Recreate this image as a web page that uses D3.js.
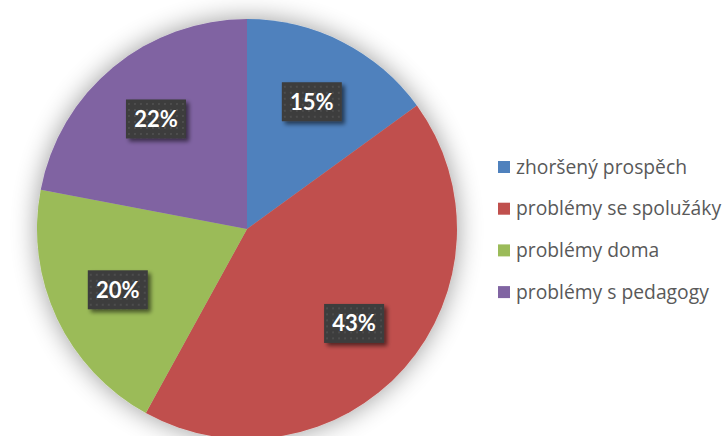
<!DOCTYPE html>
<html>
<head>
<meta charset="utf-8">
<script src="https://cdn.jsdelivr.net/npm/d3@7"></script>
<style>
  body { margin: 0; background: #fff; }
  .legend-label { font-family: "Open Sans", "Noto Sans", sans-serif; font-size: 19.3px; fill: #595959; }
  .pct-label { font-family: Lato, "Open Sans", sans-serif; font-size: 22px; font-weight: bold; fill: #fff; }
</style>
</head>
<body>
<script>
var width = 725;
var height = 436;

// data
var categories = ["zhoršený prospěch", "problémy se spolužáky", "problémy doma", "problémy s pedagogy"];
var values = [15, 43, 20, 22];
var colors = ["#4F81BD", "#C0504D", "#9BBB59", "#8064A2"];

var cx = 247, cy = 229, radius = 210;

var svg = d3.select("body")
	.append("svg")
	.attr("width", width)
	.attr("height", height);

var defs = svg.append("defs");

// soft shadow round the whole pie
var pieShadow = defs.append("filter")
	.attr("id", "pieShadow")
	.attr("x", "-20%").attr("y", "-20%")
	.attr("width", "140%").attr("height", "140%");
pieShadow.append("feGaussianBlur").attr("in", "SourceAlpha").attr("stdDeviation", 13).attr("result", "blur");
pieShadow.append("feComponentTransfer").attr("in", "blur").attr("result", "soft")
	.append("feFuncA").attr("type", "linear").attr("slope", 0.4);
var m1 = pieShadow.append("feMerge");
m1.append("feMergeNode").attr("in", "soft");
m1.append("feMergeNode").attr("in", "SourceGraphic");

// label box shadow, bottom right
var boxShadow = defs.append("filter")
	.attr("id", "boxShadow")
	.attr("x", "-30%").attr("y", "-30%")
	.attr("width", "160%").attr("height", "160%");
boxShadow.append("feGaussianBlur").attr("in", "SourceAlpha").attr("stdDeviation", 2).attr("result", "blur");
boxShadow.append("feOffset").attr("in", "blur").attr("dx", 3).attr("dy", 3).attr("result", "off");
boxShadow.append("feComponentTransfer").attr("in", "off").attr("result", "soft")
	.append("feFuncA").attr("type", "linear").attr("slope", 0.55);
var m2 = boxShadow.append("feMerge");
m2.append("feMergeNode").attr("in", "soft");
m2.append("feMergeNode").attr("in", "SourceGraphic");

// dotted fill of the label boxes
var pat = defs.append("pattern")
	.attr("id", "dots")
	.attr("width", 6).attr("height", 6)
	.attr("patternUnits", "userSpaceOnUse");
pat.append("rect").attr("width", 6).attr("height", 6).attr("fill", "#3c3c3c");
pat.append("rect").attr("x", 2).attr("y", 2).attr("width", 2).attr("height", 2).attr("fill", "#4d4d4d");

var pie = d3.pie().sort(null).value(function(d){ return d; });
var arcs = pie(values);

var arc = d3.arc().innerRadius(0).outerRadius(radius);
var labelArc = d3.arc().innerRadius(radius * 0.68).outerRadius(radius * 0.68);

var g = svg.append("g")
	.attr("transform", "translate(" + cx + "," + cy + ")");

g.append("g")
	.attr("filter", "url(#pieShadow)")
	.selectAll("path")
	.data(arcs)
	.enter()
		.append("path")
		.attr("d", arc)
		.attr("fill", function(d, i){ return colors[i]; });

var boxW = 60, boxH = 39;
var labels = g.selectAll(".lbl")
	.data(arcs)
	.enter()
		.append("g")
		.classed("lbl", true)
		.attr("transform", function(d){
			var c = labelArc.centroid(d);
			return "translate(" + c[0] + "," + c[1] + ")";
		});

labels.append("rect")
	.attr("x", -boxW / 2)
	.attr("y", -boxH / 2)
	.attr("width", boxW)
	.attr("height", boxH)
	.attr("fill", "url(#dots)")
	.attr("filter", "url(#boxShadow)");

labels.append("text")
	.classed("pct-label", true)
	.attr("text-anchor", "middle")
	.attr("dy", "0.36em")
	.text(function(d){ return d.data + "%"; });

// legend
var legendX = 498, legendY = 167, legendStep = 41.7;
var legend = svg.selectAll(".legend")
	.data(categories)
	.enter()
		.append("g")
		.classed("legend", true)
		.attr("transform", function(d, i){
			return "translate(" + legendX + "," + (legendY + i * legendStep) + ")";
		});

legend.append("rect")
	.attr("x", 0)
	.attr("y", -6)
	.attr("width", 12)
	.attr("height", 12)
	.attr("fill", function(d, i){ return colors[i]; });

legend.append("text")
	.classed("legend-label", true)
	.attr("x", 18)
	.attr("dy", "0.35em")
	.text(function(d){ return d; });
</script>
</body>
</html>
